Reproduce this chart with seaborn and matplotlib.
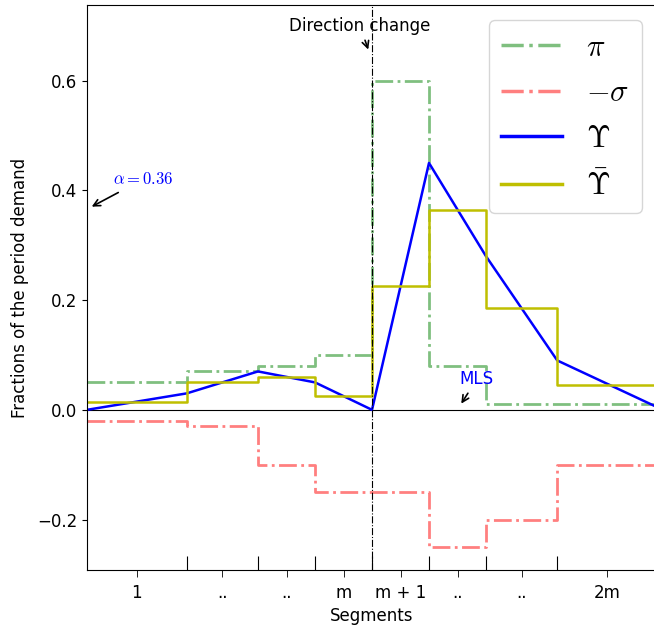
import numpy as np
import pandas as pd
import matplotlib
matplotlib.use("Agg")
import matplotlib.pyplot as plt
import seaborn as sns

# segment boundaries (x) and tick labels at segment centres
edges = [0, 1.75, 3, 4, 5, 6, 7, 8.25, 10]
tick_labels = ["1", "..", "..", "m", "m + 1", "..", "..", "2m"]

# per-segment values (step series)
pi_vals = [0.05, 0.07, 0.08, 0.10, 0.60, 0.08, 0.01, 0.01]
neg_sigma_vals = [-0.02, -0.03, -0.10, -0.15, -0.15, -0.25, -0.20, -0.10]
upsilon_bar_vals = [0.015, 0.05, 0.06, 0.025, 0.225, 0.365, 0.185, 0.045]
# values at boundaries (line series)
upsilon_vals = [0.0, 0.03, 0.07, 0.05, 0.0, 0.45, 0.28, 0.09, 0.005]

direction_change_x = 5
alpha_value = 0.36

plt.rcParams["mathtext.fontset"] = "cm"
plt.rcParams["font.size"] = 12

fig = plt.figure(figsize=(6.54, 6.28), dpi=100)
ax = fig.add_axes([87 / 654, 58 / 628, 570 / 654, 565 / 628])

def ext(v):
    return list(v) + [v[-1]]

sns.lineplot(x=edges, y=ext(pi_vals), ax=ax, color="g", alpha=0.5,
             linestyle="-.", linewidth=2, drawstyle="steps-post",
             label=r"$\pi$", sort=False)
sns.lineplot(x=edges, y=ext(neg_sigma_vals), ax=ax, color="r", alpha=0.5,
             linestyle="-.", linewidth=2, drawstyle="steps-post",
             label=r"$-\sigma$", sort=False)
sns.lineplot(x=edges, y=upsilon_vals, ax=ax, color="b", linewidth=1.8,
             label=r"$\Upsilon$", sort=False)
sns.lineplot(x=edges, y=ext(upsilon_bar_vals), ax=ax, color="y",
             linewidth=1.8, drawstyle="steps-post",
             label=r"$\bar{\Upsilon}$", sort=False)

ax.axhline(0, color="k", linewidth=0.8, zorder=1)
ax.axvline(direction_change_x, color="k", linestyle="-.", linewidth=0.8)

ax.set_xlim(edges[0], edges[-1])
ax.set_ylim(-0.292, 0.738)

centres = [(a + b) / 2 for a, b in zip(edges[:-1], edges[1:])]
ax.set_xticks(edges[1:-1])
ax.set_xticklabels([])
ax.tick_params(axis="x", which="major", direction="in", length=10)
ax.set_xticks(centres, minor=True)
ax.set_xticklabels(tick_labels, minor=True)
ax.tick_params(axis="x", which="minor", direction="out", length=5, pad=5)
ax.set_yticks([-0.2, 0.0, 0.2, 0.4, 0.6])

ax.set_xlabel("Segments")
ax.set_ylabel("Fractions of the period demand", labelpad=6)

ax.annotate("Direction change", xy=(4.95, 0.652), xytext=(4.79, 0.70),
            ha="center", va="center",
            arrowprops=dict(arrowstyle="->", color="k", lw=1.2))
ax.annotate(r"$\alpha = %.2f$" % alpha_value, xy=(0.04, 0.368),
            xytext=(0.98, 0.42), ha="center", va="center", color="b",
            arrowprops=dict(arrowstyle="->", color="k", lw=1.2))
ax.annotate("MLS", xy=(6.54, 0.007), xytext=(6.84, 0.056),
            ha="center", va="center", color="b",
            arrowprops=dict(arrowstyle="->", color="k", lw=1.2))

leg = ax.legend(loc="upper right", fontsize=22, handlelength=2.0,
                labelspacing=0.55)
for h in leg.get_lines():
    h.set_linewidth(2.5)

fig.savefig("out.png", dpi=100)
